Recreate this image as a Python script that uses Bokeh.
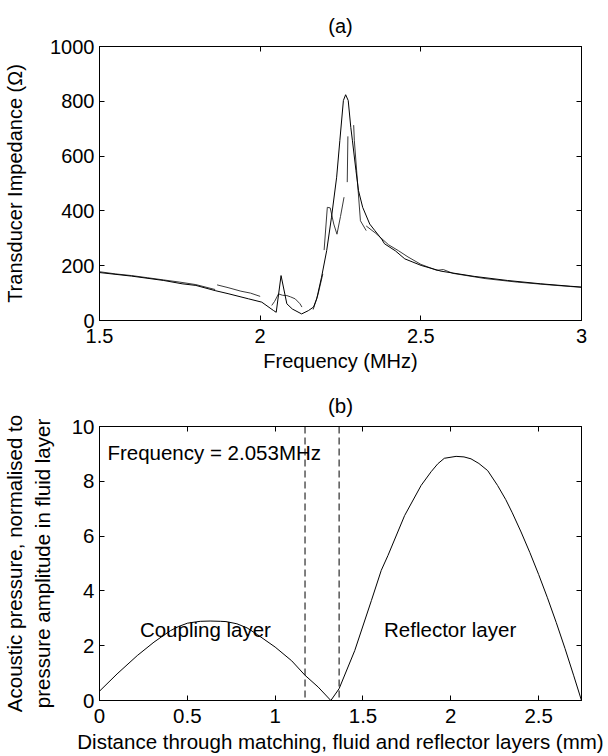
from bokeh.plotting import figure
from bokeh.layouts import column
from bokeh.models import Range1d, FixedTicker, LinearAxis, Span, Label
from bokeh.embed import file_html
from bokeh.resources import INLINE

FONT = "Liberation Sans"
FS_A = "20px"
FS_B = "20.5px"

# ---------------- (a) transducer impedance ----------------
A_X_TICKS = [1.5, 2, 2.5, 3]
A_X_LABELS = ["1.5", "2", "2.5", "3"]
A_Y_TICKS = [0, 200, 400, 600, 800, 1000]

model_freq = [1.50, 1.60, 1.70, 1.757, 1.80, 1.86, 1.90, 1.964, 2.005, 2.042, 2.05,
              2.065, 2.083, 2.10, 2.129, 2.15, 2.166, 2.176, 2.191, 2.207, 2.222,
              2.238, 2.248, 2.259, 2.266, 2.274, 2.282, 2.287, 2.298, 2.306, 2.319,
              2.341, 2.357, 2.378, 2.387, 2.421, 2.45, 2.501, 2.563, 2.666, 2.77,
              2.873, 2.966, 3.0]
model_imp = [175, 162, 146, 134, 128, 109, 98, 79, 67, 36, 30,
             164, 61, 42, 24, 36, 49, 79, 158, 255, 377,
             523, 657, 803, 824, 803, 705, 658, 548, 474, 413,
             352, 328, 297, 280, 254, 225, 201, 180, 161, 146,
             134, 125, 122]

# measured data, recorded in separate sweeps
meas1_freq = [1.50, 1.55, 1.60, 1.65, 1.70, 1.75, 1.80, 1.86]
meas1_imp = [178, 170, 164, 156, 148, 140, 131, 113]
meas2_freq = [1.866, 1.90, 1.94, 1.97, 2.0]
meas2_imp = [130, 120, 107, 100, 88]
meas3_freq = [2.036, 2.045, 2.057, 2.07, 2.083, 2.095, 2.109, 2.124, 2.13]
meas3_imp = [55, 70, 97, 92, 91, 86, 79, 61, 49]
meas4_freq = [2.165, 2.18, 2.195]
meas4_imp = [40, 95, 170]
meas5_freq = [2.199, 2.209, 2.218, 2.229, 2.239, 2.25, 2.261]
meas5_imp = [257, 413, 411, 352, 315, 380, 450]
meas6_freq = [2.271, 2.273]
meas6_imp = [505, 672]
meas7_freq = [2.291, 2.293, 2.301, 2.312, 2.33]
meas7_imp = [713, 658, 535, 364, 328]
meas8_freq = [2.33, 2.36, 2.40, 2.43, 2.46, 2.50, 2.55, 2.57, 2.60, 2.70, 2.80, 2.90, 3.0]
meas8_imp = [345, 318, 276, 255, 232, 205, 183, 186, 172, 153, 140, 130, 121]

# ---------------- (b) pressure distribution ----------------
B_X_TICKS = [0, 0.5, 1, 1.5, 2, 2.5]
B_X_LABELS = ["0", "0.5", "1", "1.5", "2", "2.5"]
B_Y_TICKS = [0, 2, 4, 6, 8, 10]

distance = [0.0, 0.1, 0.215, 0.31, 0.404, 0.45, 0.5, 0.55, 0.574, 0.63, 0.688, 0.72,
            0.782, 0.84, 0.9, 1.0, 1.094, 1.17, 1.245, 1.317, 1.364, 1.453, 1.548,
            1.604, 1.642, 1.737, 1.831, 1.888, 1.926, 1.963, 2.03, 2.075, 2.115,
            2.16, 2.21, 2.266, 2.313, 2.35, 2.40, 2.45, 2.50, 2.55, 2.60, 2.65, 2.70,
            2.744]
pressure = [0.34, 0.97, 1.64, 2.13, 2.55, 2.70, 2.82, 2.87, 2.89, 2.90, 2.89, 2.88,
            2.80, 2.65, 2.40, 1.95, 1.45, 0.92, 0.49, 0.0, 0.43, 1.82, 3.65,
            4.75, 5.29, 6.75, 7.85, 8.35, 8.64, 8.84, 8.91, 8.89, 8.82,
            8.65, 8.39, 7.85, 7.33, 6.85, 6.15, 5.40, 4.60, 3.75, 2.85, 1.90, 0.9,
            0.0]
layer_bounds = [1.17, 1.364]


def style(p, xticks, xlabels, yticks, fs):
    p.xgrid.visible = False
    p.ygrid.visible = False
    p.outline_line_color = "black"
    p.outline_line_alpha = 1.0
    p.background_fill_color = "white"
    p.border_fill_color = "white"
    p.title.text_font = FONT
    p.title.text_font_size = fs
    p.title.text_font_style = "normal"
    p.title.text_color = "black"
    p.title.align = "center"
    p.title.standoff = 19
    xax = p.xaxis[0]
    yax = p.yaxis[0]
    xax.ticker = FixedTicker(ticks=xticks)
    xax.major_label_overrides = {t: l for t, l in zip(xticks, xlabels)}
    yax.ticker = FixedTicker(ticks=yticks)
    for ax in [xax, yax]:
        ax.major_tick_in = 5
        ax.major_tick_out = 0
        ax.minor_tick_line_color = None
        ax.axis_line_color = "black"
        ax.major_tick_line_color = "black"
        ax.major_label_text_font = FONT
        ax.major_label_text_font_size = fs
        ax.major_label_text_color = "black"
        ax.major_label_standoff = 5
        ax.axis_label_text_font = FONT
        ax.axis_label_text_font_size = fs
        ax.axis_label_text_font_style = "normal"
        ax.axis_label_text_color = "black"
    xax.major_label_standoff = 8
    for loc, ticks in (("above", xticks), ("right", yticks)):
        ax = LinearAxis(ticker=FixedTicker(ticks=ticks))
        ax.major_tick_in = 5
        ax.major_tick_out = 0
        ax.minor_tick_line_color = None
        ax.axis_line_color = "black"
        ax.major_tick_line_color = "black"
        ax.major_label_overrides = {t: "" for t in ticks}
        ax.major_label_standoff = 0
        ax.major_label_text_font_size = "1px"
        p.add_layout(ax, loc)
    return xax, yax


p1 = figure(width=608, height=380, x_range=Range1d(1.5, 3), y_range=Range1d(0, 1000),
            output_backend="svg", toolbar_location=None,
            min_border_left=97, min_border_right=27, min_border_top=46, min_border_bottom=60,
            title="(a)")
xa1, ya1 = style(p1, A_X_TICKS, A_X_LABELS, A_Y_TICKS, FS_A)
xa1.axis_label = "Frequency (MHz)"
xa1.axis_label_standoff = 4
ya1.axis_label = "Transducer Impedance (\u03a9)"
ya1.axis_label_standoff = 21

for fx, fy in [(meas1_freq, meas1_imp), (meas2_freq, meas2_imp), (meas3_freq, meas3_imp),
               (meas4_freq, meas4_imp), (meas5_freq, meas5_imp), (meas6_freq, meas6_imp),
               (meas7_freq, meas7_imp), (meas8_freq, meas8_imp)]:
    p1.line(fx, fy, line_color="#3a3a3a", line_width=1)
p1.line(model_freq, model_imp, line_color="black", line_width=1)

p2 = figure(width=608, height=376, x_range=Range1d(0, 2.744), y_range=Range1d(0, 10),
            output_backend="svg", toolbar_location=None,
            min_border_left=97, min_border_right=27, min_border_top=46, min_border_bottom=56,
            title="(b)")
xa2, ya2 = style(p2, B_X_TICKS, B_X_LABELS, B_Y_TICKS, FS_B)
xa2.axis_label = "Distance through matching, fluid and reflector layers (mm)"
xa2.axis_label_standoff = 4
ya2.axis_label = "Acoustic pressure, normalised to\npressure amplitude in fluid layer"
ya2.axis_label_standoff = 15

for b in layer_bounds:
    p2.add_layout(Span(location=b, dimension="height", line_color="black",
                       line_width=1, line_dash="7 4"))
p2.line(distance, pressure, line_color="black", line_width=1)

p2.add_layout(Label(x=0.045, y=9.06, text="Frequency = 2.053MHz", text_font=FONT,
                    text_font_size=FS_B, text_baseline="middle", text_color="black"))
p2.add_layout(Label(x=0.23, y=2.6, text="Coupling layer", text_font=FONT,
                    text_font_size=FS_B, text_baseline="middle", text_color="black"))
p2.add_layout(Label(x=1.62, y=2.6, text="Reflector layer", text_font=FONT,
                    text_font_size=FS_B, text_baseline="middle", text_color="black"))

layout = column(p1, p2, spacing=0)
open("out.html", "w").write(file_html(layout, INLINE))
